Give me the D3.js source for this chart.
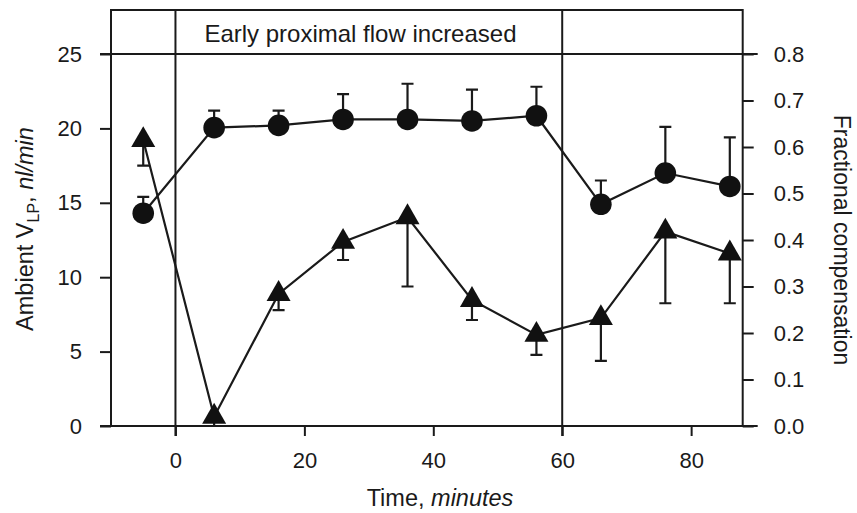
<!DOCTYPE html>
<html>
<meta charset="utf-8">
<script src="https://d3js.org/d3.v7.js"></script>
<style>
    body { margin: 0; background: #fff; }
    text { font-family: "Liberation Sans", Arial, sans-serif; fill: #1a1a1a; }
</style>
<body>
    <div id="chart"></div>
    <script>

        // data
        var times = [-5, 6, 16, 26, 36, 46, 56, 66, 76, 86];
        // Ambient VLP (left axis), circles, error bars upward
        var vlp = [14.3, 20.05, 20.2, 20.6, 20.6, 20.5, 20.85, 14.9, 17.0, 16.1];
        var vlpErrTop = [15.4, 21.2, 21.2, 22.3, 23.0, 22.6, 22.8, 16.5, 20.1, 19.4];
        // Fractional compensation (right axis), triangles, error bars downward
        var frac = [0.615, 0.02, 0.284, 0.396, 0.449, 0.271, 0.196, 0.232, 0.418, 0.371];
        var fracErrLow = [0.56, 0.0, 0.249, 0.357, 0.30, 0.228, 0.153, 0.14, 0.264, 0.264];

        var xTicks = [0, 20, 40, 60, 80];
        var leftTicks = [0, 5, 10, 15, 20, 25];
        var rightTicks = [0, 0.1, 0.2, 0.3, 0.4, 0.5, 0.6, 0.7, 0.8];
        var markerLines = [0, 60];
        var headerText = "Early proximal flow increased";

        var W = 857, H = 513;
        var ink = "#1a1a1a";

        var svg = d3.select("#chart").append("svg")
            .attr("width", W).attr("height", H);

        var x = d3.scaleLinear().domain([-10, 88]).range([111, 742.7]);
        var yL = d3.scaleLinear().domain([0, 25]).range([426, 54]);
        var yR = d3.scaleLinear().domain([0, 0.8]).range([426, 54]);
        var boxTop = 10;

        // frame
        var frame = svg.append("g").attr("stroke", ink).attr("stroke-width", 2).attr("fill", "none");
        frame.append("path")
            .attr("d", "M" + x.range()[0] + "," + yL.range()[0] + "V" + boxTop + "H" + x.range()[1] + "V" + yL.range()[0]);
        frame.append("line")
            .attr("x1", x.range()[0] - 11).attr("x2", x.range()[1] + 15)
            .attr("y1", yL(25)).attr("y2", yL(25));
        frame.append("line")
            .attr("x1", x.range()[0] - 11).attr("x2", x.range()[1] + 15)
            .attr("y1", yL(0)).attr("y2", yL(0));
        frame.selectAll(".vline").data(markerLines).enter().append("line")
            .attr("x1", function (d) { return x(d) }).attr("x2", function (d) { return x(d) })
            .attr("y1", boxTop).attr("y2", yL(0) + 10);

        // axes
        var gx = svg.append("g").attr("transform", "translate(0," + yL(0) + ")")
            .call(d3.axisBottom(x).tickValues(xTicks).tickSize(10).tickSizeOuter(0).tickPadding(16));
        var gl = svg.append("g").attr("transform", "translate(" + x.range()[0] + ",0)")
            .call(d3.axisLeft(yL).tickValues(leftTicks).tickSize(11).tickSizeOuter(0).tickPadding(18));
        var gr = svg.append("g").attr("transform", "translate(" + x.range()[1] + ",0)")
            .call(d3.axisRight(yR).tickValues(rightTicks).tickSize(11).tickSizeOuter(0).tickPadding(20)
                .tickFormat(d3.format(".1f")));
        [gx, gl, gr].forEach(function (g) {
            g.select(".domain").remove();
            g.selectAll(".tick line").attr("stroke", ink).attr("stroke-width", 2);
            g.selectAll(".tick text").style("font-size", "22px").style("font-family", "'Liberation Sans', Arial, sans-serif").attr("fill", ink);
        });

        // header text
        svg.append("text")
            .attr("x", x(28.7)).attr("y", 42)
            .attr("text-anchor", "middle")
            .style("font-size", "24px")
            .text(headerText);

        // axis titles
        var xt = svg.append("text").attr("x", 440).attr("y", 506)
            .attr("text-anchor", "middle").style("font-size", "23.5px");
        xt.append("tspan").text("Time, ");
        xt.append("tspan").style("font-style", "italic").text("minutes");

        var lt = svg.append("text")
            .attr("transform", "translate(33,229) rotate(-90)")
            .attr("text-anchor", "middle").style("font-size", "23.5px");
        lt.append("tspan").text("Ambient V");
        lt.append("tspan").attr("dy", 6).style("font-size", "16px").text("LP");
        lt.append("tspan").attr("dy", -6).text(", ");
        lt.append("tspan").style("font-style", "italic").text("nl/min");

        svg.append("text")
            .attr("transform", "translate(834,240) rotate(90)")
            .attr("text-anchor", "middle").style("font-size", "23px")
            .text("Fractional compensation");

        var circData = times.map(function (t, i) { return { t: t, v: vlp[i], e: vlpErrTop[i] } });
        var triData = times.map(function (t, i) { return { t: t, v: frac[i], e: fracErrLow[i] } });

        var cap = 6;
        var plot = svg.append("g").attr("stroke", ink).attr("stroke-width", 2.2);

        // error bars
        plot.selectAll(".cerr").data(circData).enter().append("path")
            .attr("fill", "none")
            .attr("d", function (d) {
                return "M" + x(d.t) + "," + yL(d.v) + "V" + yL(d.e) + "M" + (x(d.t) - cap) + "," + yL(d.e) + "H" + (x(d.t) + cap);
            });
        plot.selectAll(".terr").data(triData).enter().append("path")
            .attr("fill", "none")
            .attr("d", function (d) {
                return "M" + x(d.t) + "," + yR(d.v) + "V" + yR(d.e) + "M" + (x(d.t) - cap) + "," + yR(d.e) + "H" + (x(d.t) + cap);
            });

        // lines
        plot.append("path").datum(circData).attr("fill", "none")
            .attr("d", d3.line().x(function (d) { return x(d.t) }).y(function (d) { return yL(d.v) }));
        plot.append("path").datum(triData).attr("fill", "none")
            .attr("d", d3.line().x(function (d) { return x(d.t) }).y(function (d) { return yR(d.v) }));

        // markers
        svg.selectAll(".circ").data(circData).enter().append("circle")
            .attr("cx", function (d) { return x(d.t) })
            .attr("cy", function (d) { return yL(d.v) })
            .attr("r", 10.8)
            .attr("fill", "#111");
        svg.selectAll(".tri").data(triData).enter().append("path")
            .attr("transform", function (d) { return "translate(" + x(d.t) + "," + yR(d.v) + ")" })
            .attr("d", d3.symbol(d3.symbolTriangle, 250))
            .attr("fill", "#111");

    </script>
</body>

</html>
